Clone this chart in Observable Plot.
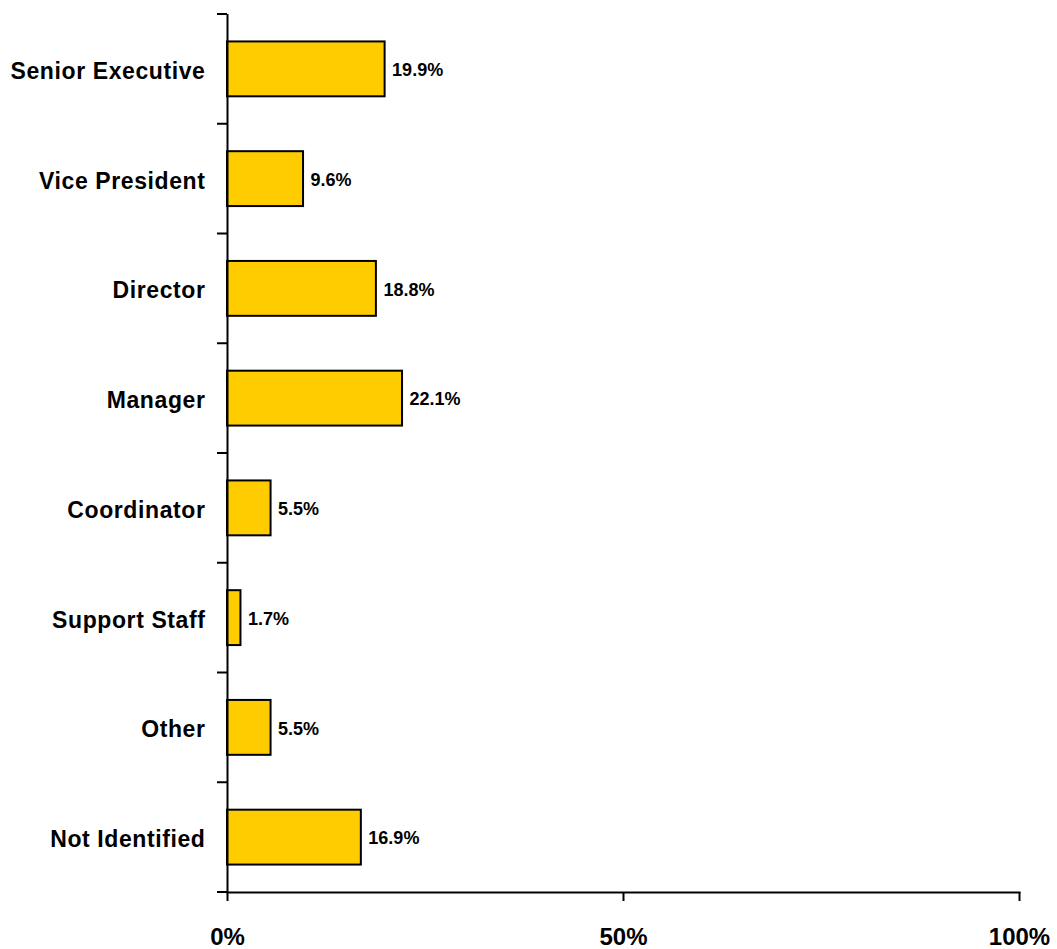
<!DOCTYPE html>
<html><head><meta charset="utf-8">
<script src="https://cdn.jsdelivr.net/npm/d3@7"></script>
<script src="https://cdn.jsdelivr.net/npm/@observablehq/plot@0.6"></script>
<style>
body{margin:0;background:#fff}
g[aria-label="y-axis tick label"] text{letter-spacing:0.6px}
</style>
</head><body><div id="chart"></div>
<script>
const categories = ["Senior Executive","Vice President","Director","Manager","Coordinator","Support Staff","Other","Not Identified"];
const values = [19.9, 9.6, 18.8, 22.1, 5.5, 1.7, 5.5, 16.9];
const xTicks = [0, 50, 100];

const data = categories.map((c, i) => ({category: c, value: values[i]}));

function boundaryTicks(index, scales, values, dims) {
  const {x, y} = scales;
  const bw = y.bandwidth();
  const step = y.step ? y.step() : (dims.height - dims.marginTop - dims.marginBottom) / categories.length;
  const bounds = categories.map(c => y(c) + bw / 2 - step / 2);
  bounds.push(y(categories[categories.length - 1]) + bw / 2 + step / 2);
  const g = d3.create("svg:g");
  g.selectAll("line").data(bounds).join("line")
    .attr("x1", x(0) - 10).attr("x2", x(0))
    .attr("y1", d => d).attr("y2", d => d)
    .attr("stroke", "#000").attr("stroke-width", 2);
  return g.node();
}

const chart = Plot.plot({
  width: 1057,
  height: 949,
  marginLeft: 227,
  marginRight: 38,
  marginTop: 14,
  marginBottom: 57,
  style: {fontFamily: "'Liberation Sans', Arial, sans-serif", background: "#fff"},
  x: {domain: [0, 100]},
  y: {domain: categories, paddingInner: 0.5, paddingOuter: 0.25, round: false},
  marks: [
    Plot.barX(data, {x: "value", y: "category", fill: "#FFCC00", stroke: "#000", strokeWidth: 2}),
    Plot.text(data, {x: "value", y: "category", text: d => d.value.toFixed(1) + "%", dx: 7, dy: 1, textAnchor: "start", fontSize: 18, fontWeight: "bold", fill: "#000"}),
    Plot.ruleX([0], {stroke: "#000", strokeWidth: 2}),
    Plot.frame({anchor: "bottom", stroke: "#000", strokeWidth: 2}),
    boundaryTicks,
    Plot.axisY({tickSize: 0, tickPadding: 22, dy: 2, fontSize: 23, fontWeight: "bold", label: null}),
    Plot.axisX({ticks: xTicks, tickFormat: d => d + "%", tickSize: 9, tickPadding: 26, strokeWidth: 2, fontSize: 24, fontWeight: "bold", label: null})
  ]
});
chart.querySelectorAll("text").forEach(t => t.setAttribute("fill", "#000"));
document.getElementById("chart").append(chart);
</script>
</body></html>
